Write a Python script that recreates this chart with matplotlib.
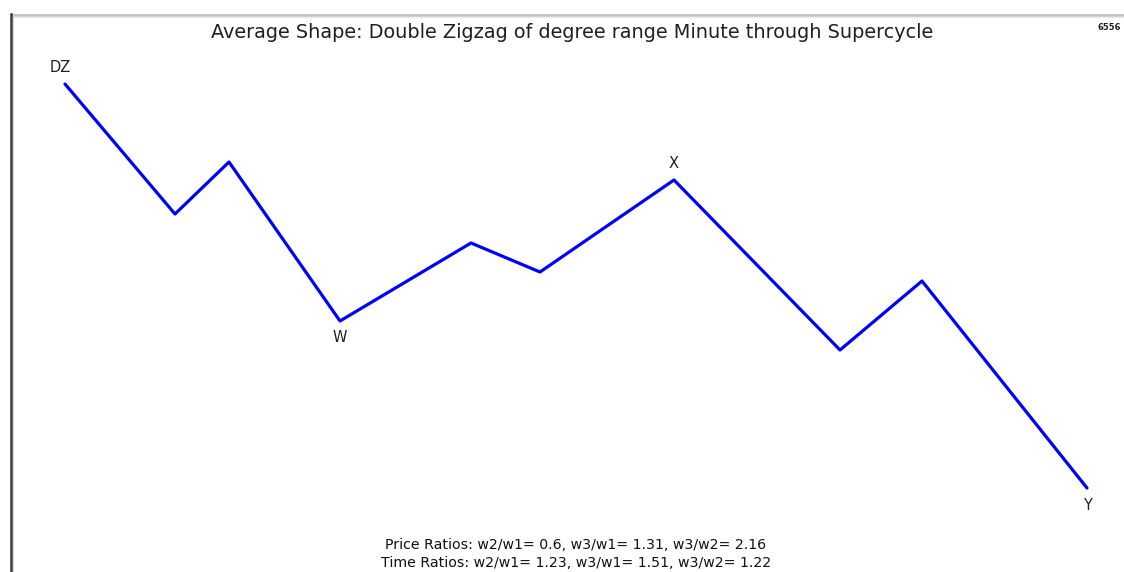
import matplotlib.pyplot as plt
from matplotlib.lines import Line2D

plt.rcParams["font.family"] = ["DejaVu Sans"]

# wave pivots: time position and price level (chart units)
time_pos = [65, 175, 229, 340, 471, 540, 674, 840, 922, 1087]
price = [488, 358, 410, 251, 329, 300, 392, 222, 291, 84]

# labelled pivots: index into the series, label text
pivot_idx = [0, 3, 6, 9]
pivot_lbl = ["DZ", "W", "X", "Y"]
pivot_above = [True, False, True, False]

title = "Average Shape: Double Zigzag of degree range Minute through Supercycle"
ratio_lines = [
    "Price Ratios: w2/w1= 0.6, w3/w1= 1.31, w3/w2= 2.16",
    "Time Ratios: w2/w1= 1.23, w3/w1= 1.51, w3/w2= 1.22",
]

W, H = 1124, 572
fig = plt.figure(figsize=(W / 100, H / 100), dpi=100)
fig.patch.set_facecolor("white")
ax = fig.add_axes([0, 0, 1, 1])
ax.set_xlim(0, W)
ax.set_ylim(0, H)
ax.axis("off")

# panel frame: grey top edge, dark left edge
fig.add_artist(Line2D([12 / W, 1], [1 - 15 / H, 1 - 15 / H], color="#c4c4c4", lw=2.0))
fig.add_artist(Line2D([12 / W, 1], [1 - 17 / H, 1 - 17 / H], color="#ececec", lw=1.0))
fig.add_artist(Line2D([11 / W, 11 / W], [0, 1 - 14 / H], color="#3a3a3a", lw=1.8))
fig.add_artist(Line2D([13 / W, 13 / W], [0, 1 - 16 / H], color="#d8d8d8", lw=0.8))

ax.plot(time_pos, price, color="#0000ff", lw=2.3, solid_joinstyle="round", solid_capstyle="round")

for i, lbl, above in zip(pivot_idx, pivot_lbl, pivot_above):
    dy = 16 if above else -17
    ax.text(time_pos[i] - (5 if lbl == "DZ" else 0), price[i] + dy, lbl,
            ha="center", va="center", fontsize=10.5, color="#202020")

ax.text(572, H - 32, title, ha="center", va="center", fontsize=13.9, color="#202020")
ax.text(1121, H - 28, "6556", ha="right", va="center", fontsize=6, fontweight="bold", color="#202020")

ax.text(576, H - 545, ratio_lines[0], ha="center", va="center", fontsize=10.2, color="#111111")
ax.text(576, H - 563, ratio_lines[1], ha="center", va="center", fontsize=10.2, color="#111111")

fig.savefig("out.png", dpi=100, facecolor="white")
